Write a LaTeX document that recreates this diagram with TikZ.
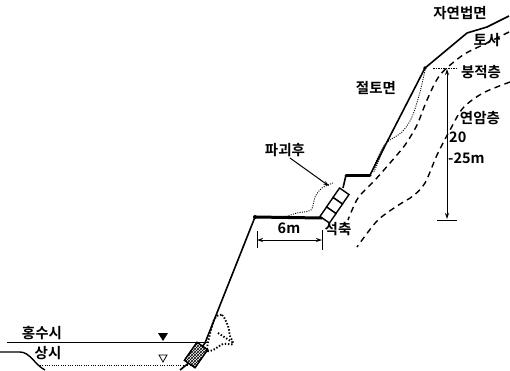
\documentclass[tikz,border=0pt]{standalone}
\usepackage{fontspec}
\newfontfamily\kr{Noto Sans CJK KR Bold}
\usetikzlibrary{patterns,arrows.meta}
\begin{document}
\begin{tikzpicture}[x=1pt,y=-1pt,
  lbl/.style={font=\kr\fontsize{14.5}{15}\selectfont, inner sep=0pt},
  num/.style={font=\kr\fontsize{14.5}{15}\selectfont, inner sep=0pt},
  ground/.style={line width=1.6pt, line join=round},
  bench/.style={line width=3pt, line cap=round},
  layer/.style={line width=1.4pt, dash pattern=on 6pt off 4.5pt},
  failure/.style={line width=0.9pt, dash pattern=on 1pt off 1.3pt},
  blob/.style={line width=1.9pt, dash pattern=on 1.4pt off 1.8pt},
  dim/.style={line width=1pt},
  tip/.style={-{Stealth[length=6pt,width=4pt]}},
  gabion/.style={draw, line width=1.4pt, fill=white, minimum size=11.5pt, inner sep=0pt, rotate=55},
]
\useasboundingbox (0,0) rectangle (510,370);

% --- ground profile ---
\coordinate (toe) at (180,370);
\coordinate (lowcrest) at (255,217);
\coordinate (benchend) at (322,218);
\coordinate (gtop) at (343,188);
\coordinate (upfoot) at (346,175);
\coordinate (upbench) at (370,175);
\coordinate (crest) at (425,68);

\draw[ground] (toe) -- (190,362) -- (205,343) -- (lowcrest);
\draw[bench] (lowcrest) -- (benchend);
\fill (lowcrest) circle (2pt);
\draw[ground] (gtop) -- (upfoot);
\draw[bench] (upfoot) -- (upbench);
\draw[ground] (upbench) -- (crest) -- (467,33) -- (487,27) -- (509,16);
\fill (crest) circle (1.8pt);

% riprap at the toe
\node[draw, line width=1.2pt, fill=white, minimum width=13pt, minimum height=22pt,
      inner sep=0pt, rotate=-35] (riprap) at (196,355) {};
\node[draw, line width=1.2pt, pattern=crosshatch, minimum width=13pt, minimum height=22pt,
      inner sep=0pt, rotate=-35] at (196,355) {};

% retaining blocks
\node[gabion] (g1) at (341,196) {};
\node[gabion] (g2) at (334.5,205.5) {};
\node[gabion] (g3) at (328,215) {};

% --- soil layer boundaries ---
\draw[layer] plot[smooth] coordinates {(509,32) (487,43) (463,55) (440,75) (427,100) (417,125) (405,145) (390,163) (375,180) (358,198) (348,220)};
\draw[layer] plot[smooth] coordinates {(510,82) (483,93) (463,108) (450,130) (437,155) (425,183) (413,196) (397,206) (377,221) (357,247)};

% --- failure surfaces ---
\draw[failure] plot[smooth] coordinates {(425,70) (420,92) (412,117) (402,132) (386,143) (378,157) (372,172)};
\draw[failure] plot[smooth] coordinates {(384,148) (379,160) (374,172)};
\draw[failure] plot[smooth] coordinates {(282,218) (297,213) (311,210) (315,197) (322,188) (333,183)};
\draw[blob] plot[smooth cycle] coordinates {(214,320) (222,315) (228,326) (230,336) (233,344) (223,344) (213,350) (207,349)};
\draw[blob] (218,333) -- (232,342);

% --- water levels ---
\draw[line width=0.9pt] (7,342) -- (207,342);
\fill (158,333) -- (168,333) -- (163,341) -- cycle;
\draw[line width=1pt, dash pattern=on 1pt off 1.3pt] (40,365) -- (190,365);
\draw[line width=0.8pt] (159,355) -- (167,355) -- (163,362) -- cycle;
\draw[line width=1.4pt] (0,352) -- (20,352) .. controls (30,352) and (35,365) .. (45,370);

% --- dimensions ---
\coordinate (htop) at (447,69);
\coordinate (hbot) at (447,219);
\draw[dim, {Stealth[length=6pt,width=4pt]}-{Stealth[length=6pt,width=4pt]}] (htop) -- (hbot);
\draw[dim] (437,220) -- (457,220);
\draw[line width=0.8pt, dash pattern=on 1.5pt off 1pt] (433,68) -- (456,68);

\coordinate (wl) at (257,240);
\coordinate (wr) at (322,240);
\draw[dim, {Stealth[length=6pt,width=4pt]}-{Stealth[length=6pt,width=4pt]}] (wl) -- (wr);
\draw[dim] (257,231) -- (257,248);
\draw[dim] (322,230) -- (322,250);

% --- labels ---
\node[lbl] (natural) at (460,13) {자연법면};
\node[lbl] (soil) at (487,40) {토사};
\node[lbl] (colluv) at (481,72) {붕적층};
\node[lbl] (cut) at (376,88) {절토면};
\node[lbl] (rock) at (480,118) {연암층};
\node[num, anchor=west] (h1) at (449,137) {20};
\node[num, anchor=west] (h2) at (448,158) {-25m};
\node[lbl] (after) at (285,150) {파괴후};
\node[num] (width) at (289,228) {6m};
\node[lbl] (wall) at (338,229) {석축};
\node[lbl] (flood) at (42,333) {홍수시};
\node[lbl] (normal) at (48,353) {상시};

\coordinate (failpt) at (329,186);
\draw[dim, tip] (290,158) -- (failpt);
\end{tikzpicture}
\end{document}
